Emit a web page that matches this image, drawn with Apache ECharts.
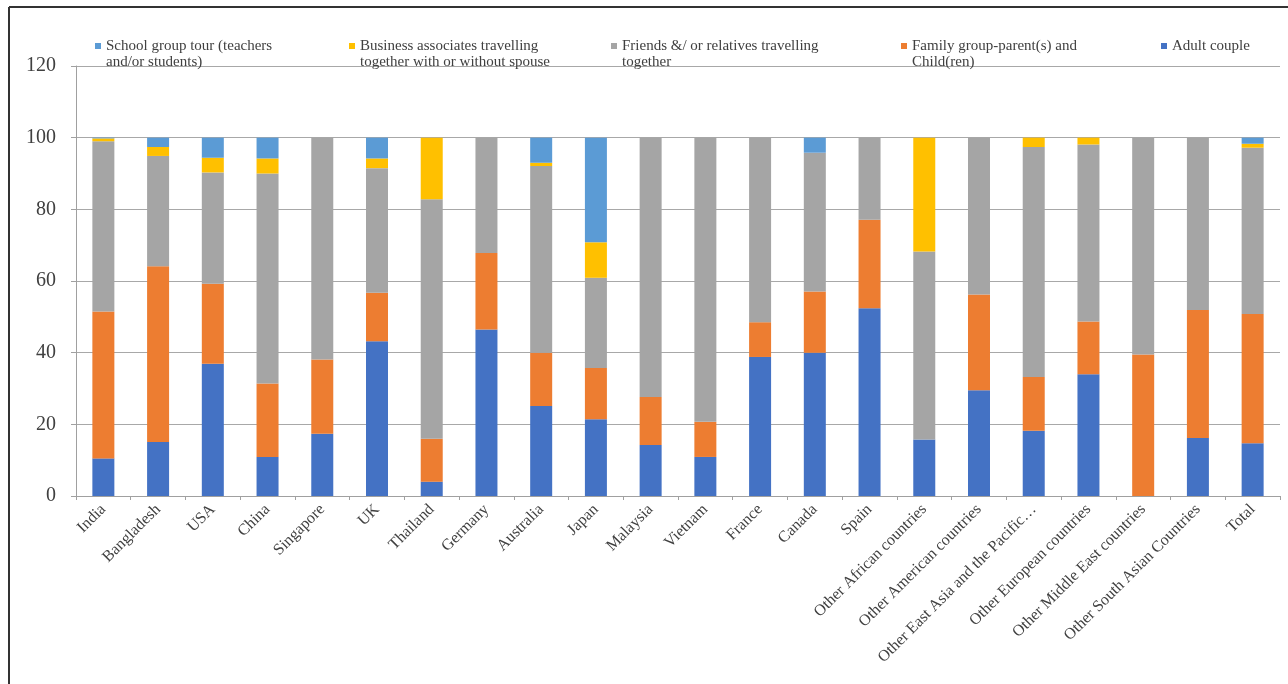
<!DOCTYPE html>
<html>
<head>
<meta charset="utf-8">
<script src="https://cdn.jsdelivr.net/npm/echarts@6/dist/echarts.min.js"></script>
<style>
html,body{margin:0;padding:0;background:#fff;}
#chart{width:1288px;height:684px;}
</style>
</head>
<body>
<div id="chart"></div>
<script>
const categories = ['India','Bangladesh','USA','China','Singapore','UK','Thailand','Germany','Australia','Japan','Malaysia','Vietnam','France','Canada','Spain','Other African countries','Other American countries','Other East Asia and the Pacific…','Other European countries','Other Middle East countries','Other South Asian Countries','Total'];
const yTicks = [0,20,40,60,80,100,120];
const adultCouple = [10.5,15.1,36.9,10.9,17.4,43.2,4.0,46.5,25.1,21.4,14.2,10.9,38.8,40.0,52.4,15.8,29.5,18.2,34.0,0,16.2,14.7];
const familyGroup = [41.0,49.0,22.3,20.5,20.7,13.5,12.0,21.3,14.9,14.3,13.4,9.8,9.7,17.1,24.7,0,26.7,15.0,14.7,39.5,35.7,36.1];
const friendsRelatives = [47.5,30.8,31.1,58.6,61.9,34.8,66.8,32.2,52.1,25.2,72.4,79.3,51.5,38.7,22.9,52.4,43.8,64.2,49.4,60.5,48.1,46.4];
const businessAssoc = [0.8,2.5,4.1,4.2,0,2.7,17.2,0,0.9,9.9,0,0,0,0,0,31.8,0,2.6,1.9,0,0,1.1];
const schoolGroup = [0.2,2.6,5.6,5.8,0,5.8,0,0,7.0,29.2,0,0,0,4.2,0,0,0,0,0,0,0,1.7];
const seriesNames = ['Adult couple','Family group-parent(s) and\nChild(ren)','Friends &/ or relatives travelling\ntogether','Business associates travelling\ntogether with or without spouse','School group tour (teachers\nand/or students)'];
</script>
<script>
const chart = echarts.init(document.getElementById('chart'));
const colors = ['#4472C4','#ED7D31','#A5A5A5','#FFC000','#5B9BD5'];
const dataSets = [adultCouple,familyGroup,friendsRelatives,businessAssoc,schoolGroup];
const serif = '"Liberation Serif","Times New Roman",serif';
const legendX = [1161,901,611,349,95];
// icon: small square at top of a taller box so it sits beside the first text line
const topSquare = 'path://M0,0L6,0L6,6L0,6Z M0,22L0.001,22Z';
function mkLegend(i){
  const twoLine = seriesNames[i].indexOf('\n')>=0;
  return {
    left: legendX[i], top: 38, padding:0, orient:'horizontal',
    data:[{name:seriesNames[i], icon: twoLine ? topSquare : 'rect'}],
    itemWidth:6, itemHeight: twoLine ? 22 : 6, itemGap:4, symbolKeepAspect:false,
    textStyle:{fontFamily:serif,fontSize:15,color:'#404040',lineHeight:16}
  };
}
chart.setOption({
  animation:false,
  backgroundColor:'#fff',
  color: colors,
  legend:[0,1,2,3,4].map(mkLegend),
  grid:{left:76,right:8,top:66,bottom:188,containLabel:false},
  xAxis:{type:'category',data:categories,
    axisLine:{lineStyle:{color:'#a0a0a0'}},
    axisTick:{show:true,length:4,lineStyle:{color:'#a0a0a0'}},
    axisLabel:{rotate:45,interval:0,margin:11,fontFamily:serif,fontSize:16,color:'#404040'}},
  yAxis:{type:'value',min:0,max:120,interval:20,
    axisLine:{show:true,lineStyle:{color:'#a0a0a0'}},
    axisTick:{show:true,length:5,lineStyle:{color:'#a0a0a0'}},
    splitLine:{lineStyle:{color:'#a8a8a8'}},
    axisLabel:{margin:20,fontFamily:serif,fontSize:20,color:'#404040',
      formatter:function(v){return yTicks.indexOf(v)>=0?String(v):'';}}},
  graphic:[
    {type:'line',shape:{x1:9,y1:7,x2:1288,y2:7},style:{stroke:'#333',lineWidth:2},silent:true},
    {type:'line',shape:{x1:9,y1:7,x2:9,y2:684},style:{stroke:'#333',lineWidth:2},silent:true}
  ],
  series:dataSets.map((d,i)=>({
    name:seriesNames[i],type:'bar',stack:'total',barWidth:22,
    itemStyle:{color:colors[i]},data:d
  }))
});
</script>
</body>
</html>
